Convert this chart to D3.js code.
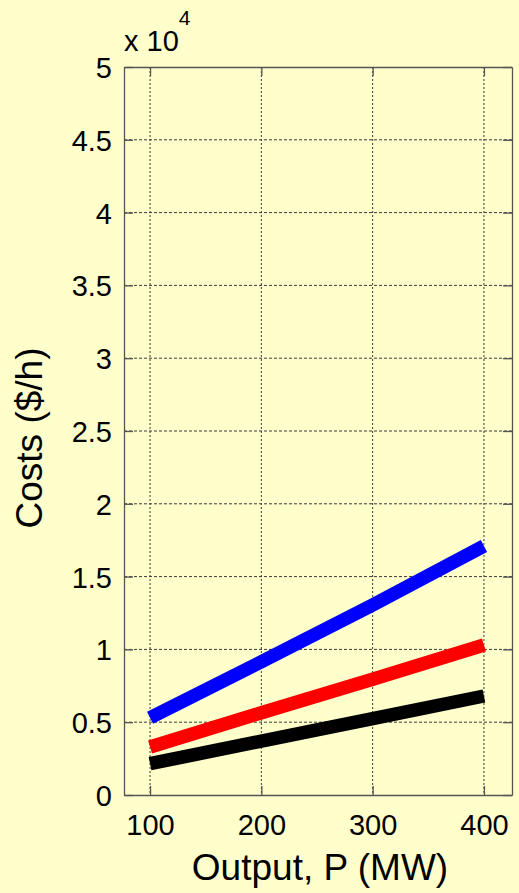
<!DOCTYPE html>
<html>
<head>
<meta charset="utf-8">
<script src="https://cdn.jsdelivr.net/npm/d3@7"></script>
<style>
  html, body { margin: 0; padding: 0; background: #FFFFCC; }
  svg { display: block; }
  text { font-family: "Liberation Sans", Arial, Helvetica, sans-serif; fill: #000; }
</style>
</head>
<body>
<svg id="chart" width="519" height="893"></svg>
<script>
// Generator output (MW) and hourly cost ($/h) for three units
const outputMW = [100, 200, 300, 400];
const costBlue  = [5300, 9150, 13050, 17100];
const costRed   = [3300, 5650, 7950, 10300];
const costBlack = [2150, 3700, 5250, 6800];

const xTicks = [100, 200, 300, 400];
const yTicks = [0, 5000, 10000, 15000, 20000, 25000, 30000, 35000, 40000, 45000, 50000];
const yTickLabels = ["0", "0.5", "1", "1.5", "2", "2.5", "3", "3.5", "4", "4.5", "5"];

const series = [
  { name: "blue",  values: costBlue,  color: "#0000FF" },
  { name: "red",   values: costRed,   color: "#FF0000" },
  { name: "black", values: costBlack, color: "#000000" }
];

const svg = d3.select("#chart");
const plot = { left: 124, right: 512, top: 67, bottom: 795 };

const x = d3.scaleLinear().domain([76.6, 425.2]).range([plot.left, plot.right]);
const y = d3.scaleLinear().domain([0, 50000]).range([plot.bottom, plot.top]);

const gridColor = "#3a3a3a";
const axisColor = "#555";
const tickLen = 9;

// dotted grid
const grid = svg.append("g");
grid.selectAll("line.gx").data(xTicks).join("line")
  .attr("x1", d => x(d)).attr("x2", d => x(d))
  .attr("y1", plot.top).attr("y2", plot.bottom)
  .attr("stroke", gridColor).attr("stroke-width", 1)
  .attr("stroke-dasharray", "2,2");
grid.selectAll("line.gy").data(yTicks.slice(1, -1)).join("line")
  .attr("x1", plot.left).attr("x2", plot.right)
  .attr("y1", d => y(d)).attr("y2", d => y(d))
  .attr("stroke", gridColor).attr("stroke-width", 1)
  .attr("stroke-dasharray", "3,2");

// axes: left and bottom with inward ticks, plus mirrored top/right
const axisLeft = d3.axisLeft(y).tickValues(yTicks)
  .tickFormat((d, i) => yTickLabels[i]).tickSizeInner(-tickLen).tickSizeOuter(0).tickPadding(12);
const axisBottom = d3.axisBottom(x).tickValues(xTicks)
  .tickSizeInner(-tickLen).tickSizeOuter(0).tickPadding(12);
const axisRight = d3.axisRight(y).tickValues(yTicks).tickFormat("").tickSizeInner(-tickLen).tickSizeOuter(0);
const axisTop = d3.axisTop(x).tickValues(xTicks).tickFormat("").tickSizeInner(-tickLen).tickSizeOuter(0);

function styleAxis(g) {
  g.select(".domain").attr("stroke", axisColor).attr("stroke-width", 1.3);
  g.selectAll(".tick line").attr("stroke", axisColor).attr("stroke-width", 1.3);
  g.selectAll(".tick text").attr("fill", "#000")
    .style("font-family", '"Liberation Sans", Arial, sans-serif')
    .style("font-size", "29px");
}

svg.append("g").attr("transform", `translate(${plot.left},0)`).call(axisLeft).call(styleAxis)
  .selectAll(".tick text").attr("dy", "0.36em");
svg.append("g").attr("transform", `translate(0,${plot.bottom})`).call(axisBottom).call(styleAxis)
  .selectAll(".tick text").attr("dy", "0.95em");
svg.append("g").attr("transform", `translate(${plot.right},0)`).call(axisRight).call(styleAxis);
svg.append("g").attr("transform", `translate(0,${plot.top})`).call(axisTop).call(styleAxis);

// cost curves
const line = d3.line().x((d, i) => x(outputMW[i])).y(d => y(d));
svg.append("g").selectAll("path").data(series).join("path")
  .attr("d", s => line(s.values))
  .attr("fill", "none")
  .attr("stroke", s => s.color)
  .attr("stroke-width", 13.5)
  .attr("stroke-linecap", "butt")
  .attr("stroke-linejoin", "round");

// exponent multiplier above the y axis
const expo = svg.append("text").attr("x", 124).attr("y", 51).style("font-size", "29px");
expo.append("tspan").text("x 10");
expo.append("tspan").attr("dy", -26).style("font-size", "21px").text("4");

// axis titles
svg.append("text")
  .attr("x", 320).attr("y", 880)
  .attr("text-anchor", "middle")
  .style("font-size", "37px")
  .text("Output, P (MW)");

svg.append("text")
  .attr("transform", "translate(42,438) rotate(-90)")
  .attr("text-anchor", "middle")
  .style("font-size", "37px")
  .text("Costs ($/h)");
</script>
</body>
</html>
